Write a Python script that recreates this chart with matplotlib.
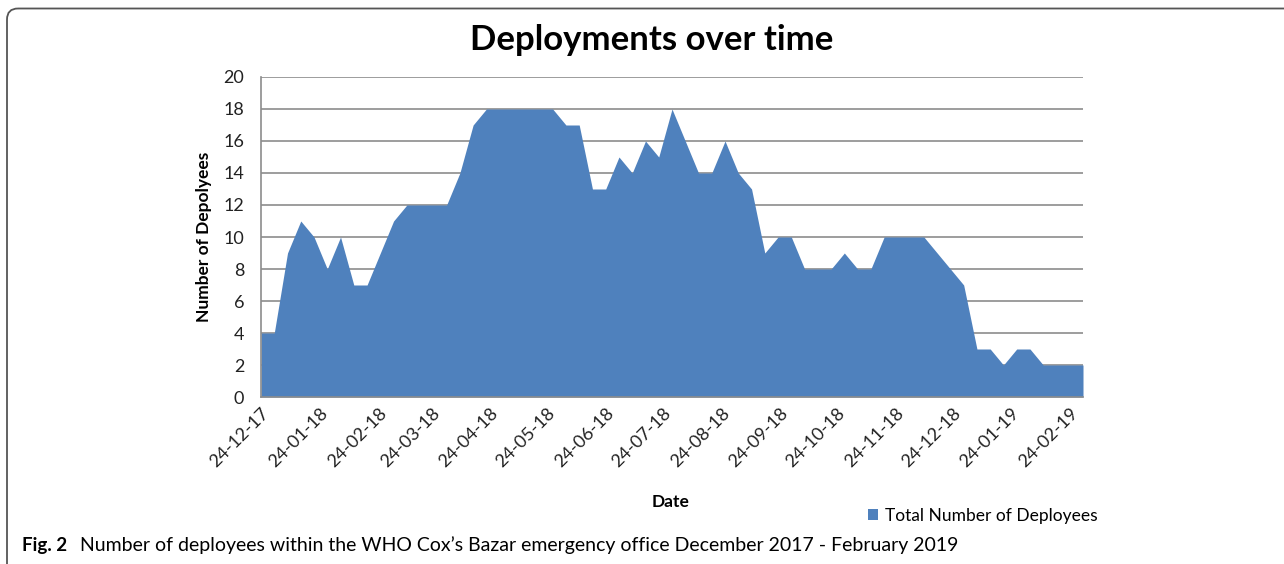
import matplotlib
matplotlib.use("Agg")
import matplotlib.pyplot as plt
import matplotlib.dates as mdates
from matplotlib.patches import FancyBboxPatch
import pandas as pd

# weekly counts, first week starting 24-12-2017
start_date = "2017-12-24"
deployees = [4, 4, 9, 11, 10, 8, 10, 7, 7, 9,
             11, 12, 12, 12, 12, 14, 17, 18, 18, 18,
             18, 18, 18, 17, 17, 13, 13, 15, 14, 16,
             15, 18, 16, 14, 14, 16, 14, 13, 9, 10,
             10, 8, 8, 8, 9, 8, 8, 10, 10, 10,
             10, 9, 8, 7, 3, 3, 2, 3, 3, 2,
             2, 2, 2]
tick_dates = ["2017-12-24", "2018-01-24", "2018-02-24", "2018-03-24", "2018-04-24",
              "2018-05-24", "2018-06-24", "2018-07-24", "2018-08-24", "2018-09-24",
              "2018-10-24", "2018-11-24", "2018-12-24", "2019-01-24", "2019-02-24"]
y_ticks = [0, 2, 4, 6, 8, 10, 12, 14, 16, 18, 20]

title = "Deployments over time"
series_name = "Total Number of Deployees"
caption_bold = "Fig. 2"
caption = "Number of deployees within the WHO Cox\u2019s Bazar emergency office December 2017 - February 2019"

dates = pd.date_range(start_date, periods=len(deployees), freq="7D")
ticks = pd.to_datetime(tick_dates)

plt.rcParams['font.family'] = ['Lato', 'DejaVu Sans']
blue = "#4f81bd"
grid_col = "#8c8c8c"

fig = plt.figure(figsize=(12.84, 5.64), dpi=100)

# frame around the figure, like the journal page
bg = fig.add_axes([0, 0, 1, 1])
bg.set_xlim(0, 1284)
bg.set_ylim(564, 0)
bg.axis("off")
frame = FancyBboxPatch((7, 8.5), 1300, 570, boxstyle="round,pad=0,rounding_size=11",
                       fc="none", ec="#555555", lw=1.3)
bg.add_patch(frame)

ax = fig.add_axes([261 / 1284, 1 - 397 / 564, (1083 - 261) / 1284, (397 - 77) / 564])
ax.fill_between(dates, deployees, 0, color=blue, lw=0, label=series_name)
ax.set_xlim(dates[0], dates[-1])
ax.set_ylim(0, 20)
ax.set_yticks(y_ticks)
ax.set_xticks(ticks)
ax.xaxis.set_major_formatter(mdates.DateFormatter("%d-%m-%y"))
ax.yaxis.grid(True, color=grid_col, lw=1.2)
ax.set_axisbelow(True)
for s in ["top", "right"]:
    ax.spines[s].set_visible(False)
for s in ["left", "bottom"]:
    ax.spines[s].set_color(grid_col)
    ax.spines[s].set_linewidth(1.2)
ax.tick_params(axis="both", length=0, labelsize=13, colors="#222222")
ax.tick_params(axis="y", pad=12)
ax.tick_params(axis="x", pad=6)
for lab in ax.get_xticklabels():
    lab.set_rotation(45)
    lab.set_ha("right")
    lab.set_rotation_mode("anchor")

ax.set_ylabel("Number of Depolyees", fontsize=12.5, fontweight="bold", labelpad=8)
fig.text(671 / 1284, 1 - 502 / 564, "Date", fontsize=12.5, fontweight="bold",
         ha="center", va="center")
fig.text(652 / 1284, 1 - 40 / 564, title, fontsize=25, fontweight="bold",
         ha="center", va="center")

ax.legend(loc="center left", bbox_to_anchor=(852 / 1284, 1 - 516 / 564),
          bbox_transform=fig.transFigure, frameon=False, fontsize=12.5,
          handlelength=0.6, handleheight=0.6, handletextpad=0.4)

fig.text(22 / 1284, 1 - 545 / 564, caption_bold, fontsize=13.5, fontweight="bold",
         ha="left", va="center")
fig.text(80 / 1284, 1 - 545 / 564, caption, fontsize=14, ha="left", va="center")

fig.savefig("out.png", dpi=100)
